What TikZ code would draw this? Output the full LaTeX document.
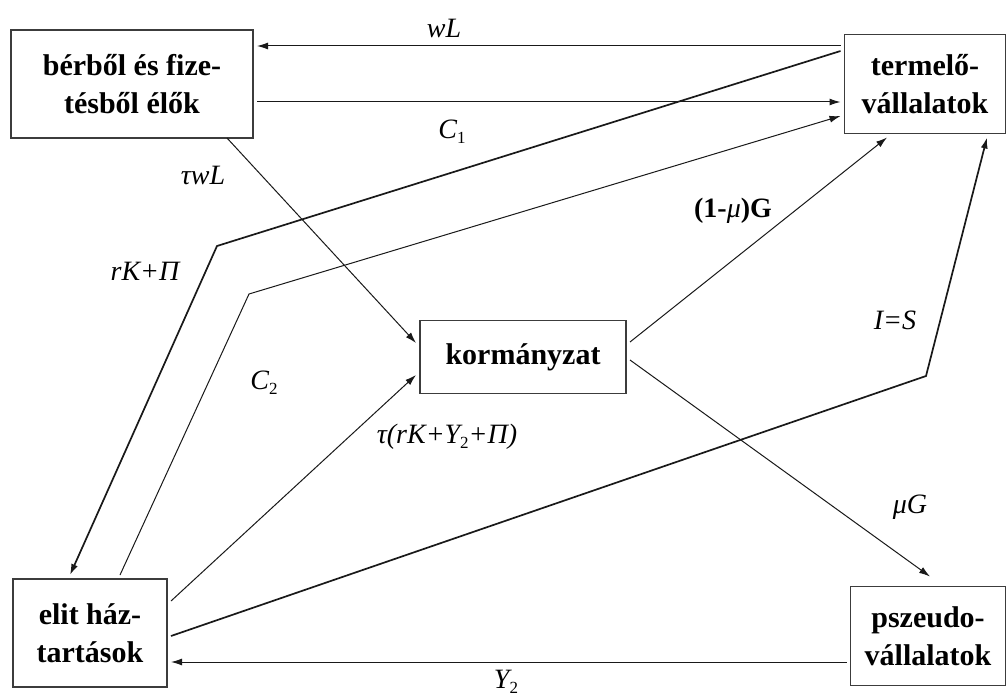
\documentclass[tikz,border=0pt]{standalone}
\usepackage{fontspec}
\setmainfont{Liberation Serif}[BoldFont={Liberation Serif Bold},ItalicFont={Liberation Serif Italic}]
\usepackage{tikz}
\usetikzlibrary{arrows.meta}
\newcommand{\lsub}[1]{\raisebox{-0.4ex}{\fontsize{17}{17}\selectfont\upshape #1}}
\begin{document}
\begin{tikzpicture}[x=1pt,y=-1pt,
  box/.style={draw={rgb,255:red,60;green,60;blue,60},line width=1.3pt,fill=white,inner sep=0pt,outer sep=4pt,align=center,font=\bfseries\fontsize{30}{38}\selectfont},
  flow/.style={draw={rgb,255:red,25;green,25;blue,25},line width=1pt,-{Latex[length=11pt,width=7pt]}},
  heavy/.style={flow,line width=1.7pt},
  lbl/.style={inner sep=0pt,font=\itshape\fontsize{28}{30}\selectfont}]
\path[use as bounding box] (0,0) rectangle (1008,698);
\path[fill=white,draw=none] (0,0) rectangle (1008,698);
% boxes
\node[box,minimum width=242pt,minimum height=108pt] (berbol) at (132,84) {bérből és fize-\\tésből élők};
\node[box,minimum width=161pt,minimum height=99pt] (termelo) at (925,84) {termelő-\\vállalatok};
\node[box,minimum width=206pt,minimum height=73pt] (korm) at (523,357) {kormányzat};
\node[box,minimum width=154pt,minimum height=108pt] (elit) at (90,633) {elit ház-\\tartások};
\node[box,minimum width=155pt,minimum height=99pt] (pszeudo) at (928,636) {pszeudo-\\vállalatok};
% bend points
\coordinate (rkbend) at (217,246);
\coordinate (cbend) at (249,294);
\coordinate (isbend) at (926,376);
% flows
\draw[flow] ([yshift=38pt]termelo.west) -- ([yshift=38pt]berbol.east);
\draw[flow] ([yshift=-18pt]berbol.east) -- ([yshift=-18pt]termelo.west);
\draw[flow] ([xshift=95pt,yshift=4pt]berbol.south) -- ([yshift=14pt]korm.west);
\draw[heavy] ([yshift=33pt]termelo.west) -- (rkbend) -- ([xshift=-20pt]elit.north);
\draw[flow] ([xshift=30pt]elit.north) -- (cbend) -- ([yshift=-32pt]termelo.west);
\draw[flow] ([yshift=32pt]elit.east) -- ([yshift=-18pt]korm.west);
\draw[flow] ([yshift=15pt]korm.east) -- ([xshift=-38pt]termelo.south);
\draw[flow] ([yshift=-3pt]korm.east) -- ([xshift=2pt,yshift=6pt]pszeudo.north);
\draw[heavy] ([yshift=-3pt]elit.east) -- (isbend) -- ([xshift=62pt]termelo.south);
\draw[flow] ([yshift=-26pt]pszeudo.west) -- ([yshift=-29pt]elit.east);
% labels
\node[lbl] (lwL) at (444,28) {wL};
\node[lbl] (lC1) at (452,132) {C\lsub{1}};
\node[lbl] (ltwL) at (203,175) {τwL};
\node[lbl] (lrK) at (145,271) {rK+Π};
\node[lbl] (lC2) at (264,383) {C\lsub{2}};
\node[lbl] (ltax) at (447,437) {τ(rK+Y\lsub{2}+Π)};
\node[lbl] (lG) at (733,211) {\textbf{\upshape(1-}μ\textbf{\upshape)G}};
\node[lbl] (lIS) at (895,320) {I=S};
\node[lbl] (lmuG) at (910,507) {μG};
\node[lbl] (lY2) at (506,682) {Y\lsub{2}};
\end{tikzpicture}
\end{document}
